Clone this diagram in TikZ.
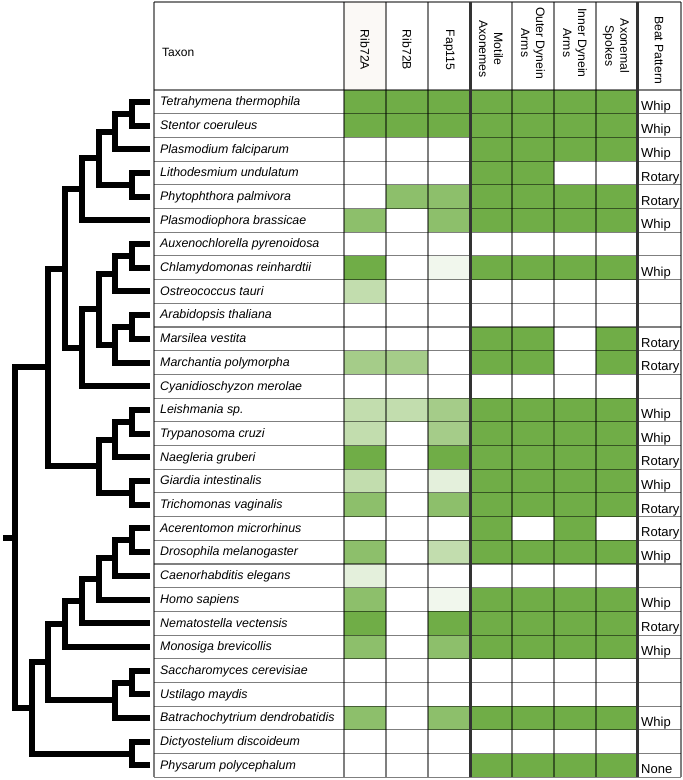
\documentclass[tikz,border=0pt]{standalone}
\usepackage{fontspec}
\setmainfont{Liberation Sans}
\definecolor{gfull}{HTML}{70AD47}
\definecolor{gmid}{HTML}{8DBF6B}
\definecolor{ghalf}{HTML}{A5CC89}
\definecolor{glight}{HTML}{C2DDAE}
\definecolor{gpale}{HTML}{E4F0DC}
\definecolor{gfaint}{HTML}{F1F7ED}
\definecolor{w}{HTML}{FFFFFF}
\definecolor{hdrtint}{HTML}{FBF9F6}
\definecolor{sepgray}{HTML}{333333}

\begin{document}
\begin{tikzpicture}[x=1pt,y=-1pt,
        branch/.style={line width=6pt, line cap=rect},
        taxon/.style={anchor=west, inner xsep=6pt, inner ysep=0pt, text height=10.6pt, text depth=3pt, font=\fontsize{12.4}{14}\selectfont\itshape},
        beat/.style={anchor=base west, inner sep=0pt, font=\fontsize{13}{15}\selectfont},
        colhead/.style={rotate=-90, align=center, inner sep=0pt, font=\fontsize{12.2}{15}\selectfont},
        gridline/.style={draw=black, draw opacity=0.5, line width=1.1pt},
        sepline/.style={draw=sepgray, line width=3pt}]
        \useasboundingbox (0,0) rectangle (683,780);
        %drawing the coloured cells
        \fill[hdrtint] (344,2) rectangle (386,90);
        \foreach \r/\cols in {1/{gfull,gfull,gfull,gfull,gfull,gfull,gfull},
                2/{gfull,gfull,gfull,gfull,gfull,gfull,gfull},
                3/{w,w,w,gfull,gfull,gfull,gfull},
                4/{w,w,w,gfull,gfull,w,w},
                5/{w,gmid,gmid,gfull,gfull,gfull,gfull},
                6/{gmid,w,gmid,gfull,gfull,gfull,gfull},
                8/{gfull,w,gfaint,gfull,gfull,gfull,gfull},
                9/{glight,w,w,w,w,w,w},
                11/{w,w,w,gfull,gfull,w,gfull},
                12/{ghalf,ghalf,w,gfull,gfull,w,gfull},
                14/{glight,glight,ghalf,gfull,gfull,gfull,gfull},
                15/{glight,w,ghalf,gfull,gfull,gfull,gfull},
                16/{gfull,w,gfull,gfull,gfull,gfull,gfull},
                17/{glight,w,gpale,gfull,gfull,gfull,gfull},
                18/{gmid,w,gmid,gfull,gfull,gfull,gfull},
                19/{w,w,w,gfull,w,gfull,w},
                20/{gmid,w,glight,gfull,gfull,gfull,gfull},
                21/{gpale,w,w,w,w,w,w},
                22/{gmid,w,gfaint,gfull,gfull,gfull,gfull},
                23/{gfull,w,gfull,gfull,gfull,gfull,gfull},
                24/{gmid,w,gmid,gfull,gfull,gfull,gfull},
                27/{gmid,w,gmid,gfull,gfull,gfull,gfull},
                29/{w,w,w,gfull,gfull,gfull,gfull}}
            \foreach \c [count=\j] in \cols
                \fill[\c] ({344+42*(\j-1)},{90+23.7*(\r-1)}) rectangle ++(42,23.7);
        %drawing the grid
        \draw[gridline] (154,2) -- (681,2);
        \foreach \r in {0,...,29}
            \draw[gridline] (154,{90+23.7*\r}) -- (681,{90+23.7*\r});
        \foreach \x in {154,344,386,428,512,554,596,681}
            \draw[gridline] (\x,2) -- (\x,777.3);
        \draw[sepline] (470,2) -- (470,777.3);
        \draw[sepline] (637,2) -- (637,777.3);
        %drawing the header
        \node[anchor=west, inner sep=0pt, font=\fontsize{12}{14}\selectfont] (hTaxon) at (162,52) {Taxon};
        \node[colhead] (hRibA) at (365,50) {Rib72A};
        \node[colhead] (hRibB) at (407,50) {Rib72B};
        \node[colhead] (hFap) at (449,50) {Fap115};
        \node[colhead] (hMotile) at (491,49) {Motile\\Axonemes};
        \node[colhead] (hOuter) at (533,43) {Outer Dynein\\Arms};
        \node[colhead] (hInner) at (575,43) {Inner Dynein\\Arms};
        \node[colhead] (hSpokes) at (616,46) {Axonemal\\Spokes};
        \node[colhead] (hBeat) at (659,50) {Beat Pattern};
        %drawing the taxa
        \foreach \r/\name in {1/Tetrahymena thermophila, 2/Stentor coeruleus, 3/Plasmodium falciparum,
                4/Lithodesmium undulatum, 5/Phytophthora palmivora, 6/Plasmodiophora brassicae,
                7/Auxenochlorella pyrenoidosa, 8/Chlamydomonas reinhardtii, 9/Ostreococcus tauri,
                10/Arabidopsis thaliana, 11/Marsilea vestita, 12/Marchantia polymorpha,
                13/Cyanidioschyzon merolae, 14/Leishmania sp., 15/Trypanosoma cruzi,
                16/Naegleria gruberi, 17/Giardia intestinalis, 18/Trichomonas vaginalis,
                19/Acerentomon microrhinus, 20/Drosophila melanogaster, 21/Caenorhabditis elegans,
                22/Homo sapiens, 23/Nematostella vectensis, 24/Monosiga brevicollis,
                25/Saccharomyces cerevisiae, 26/Ustilago maydis, 27/Batrachochytrium dendrobatidis,
                28/Dictyostelium discoideum, 29/Physarum polycephalum}
            \node[taxon] (t\r) at (154,{90+23.7*(\r-0.5)}) {\name};
        %drawing the beat patterns
        \foreach \r/\txt in {1/Whip, 2/Whip, 3/Whip, 4/Rotary, 5/Rotary, 6/Whip, 8/Whip, 11/Rotary,
                12/Rotary, 14/Whip, 15/Whip, 16/Rotary, 17/Whip, 18/Rotary, 19/Rotary, 20/Whip,
                22/Whip, 23/Rotary, 24/Whip, 27/Whip, 29/None}
            \node[beat] (b\r) at (641,{90+23.7*\r-3.5}) {\txt};
        %tree nodes
        \coordinate (nA) at (131.9,113.7);
        \coordinate (nB) at (115.2,131.5);
        \coordinate (nC) at (131.9,184.8);
        \coordinate (nD) at (98.5,158.1);
        \coordinate (nE) at (81.8,189.2);
        \coordinate (nF) at (131.9,255.9);
        \coordinate (nG) at (115.2,273.7);
        \coordinate (nH) at (131.9,327.0);
        \coordinate (nI) at (115.2,344.8);
        \coordinate (nJ) at (98.5,309.2);
        \coordinate (nK) at (81.8,347.7);
        \coordinate (nL) at (65.1,268.5);
        \coordinate (nM) at (131.9,421.8);
        \coordinate (nN) at (115.2,439.6);
        \coordinate (nO) at (131.9,492.9);
        \coordinate (nP) at (98.5,466.2);
        \coordinate (nQ) at (48.4,367.4);
        \coordinate (nR) at (131.9,540.3);
        \coordinate (nS) at (115.2,558.1);
        \coordinate (nT) at (98.5,578.8);
        \coordinate (nU) at (81.8,601.0);
        \coordinate (nV) at (65.1,624.0);
        \coordinate (nW) at (131.9,682.5);
        \coordinate (nX) at (115.2,700.3);
        \coordinate (nY) at (48.4,662.1);
        \coordinate (nZ) at (131.9,753.6);
        \coordinate (nAA) at (31.7,707.9);
        \coordinate (root) at (15,537.6);
        \coordinate (stub) at (6,537.6);
        %drawing the branches to the taxa
        \foreach \p/\c in {nA/t1, nA/t2, nB/t3, nC/t4, nC/t5, nE/t6, nF/t7, nF/t8, nG/t9, nH/t10,
                nH/t11, nI/t12, nK/t13, nM/t14, nM/t15, nN/t16, nO/t17, nO/t18, nR/t19, nR/t20,
                nS/t21, nT/t22, nU/t23, nV/t24, nW/t25, nW/t26, nX/t27, nZ/t28, nZ/t29}
            \draw[branch, shorten >=7pt] (\p) |- (\c.west);
        %drawing the inner branches
        \foreach \p/\c in {nB/nA, nD/nB, nD/nC, nE/nD, nG/nF, nI/nH, nJ/nG, nJ/nI, nK/nJ, nL/nE,
                nL/nK, nN/nM, nP/nN, nP/nO, nQ/nL, nQ/nP, nS/nR, nT/nS, nU/nT, nV/nU, nX/nW,
                nY/nV, nY/nX, nAA/nY, nAA/nZ, root/nQ, root/nAA}
            \draw[branch] (\p) |- (\c);
        \draw[branch] (stub) -- (root);
\end{tikzpicture}
\end{document}
